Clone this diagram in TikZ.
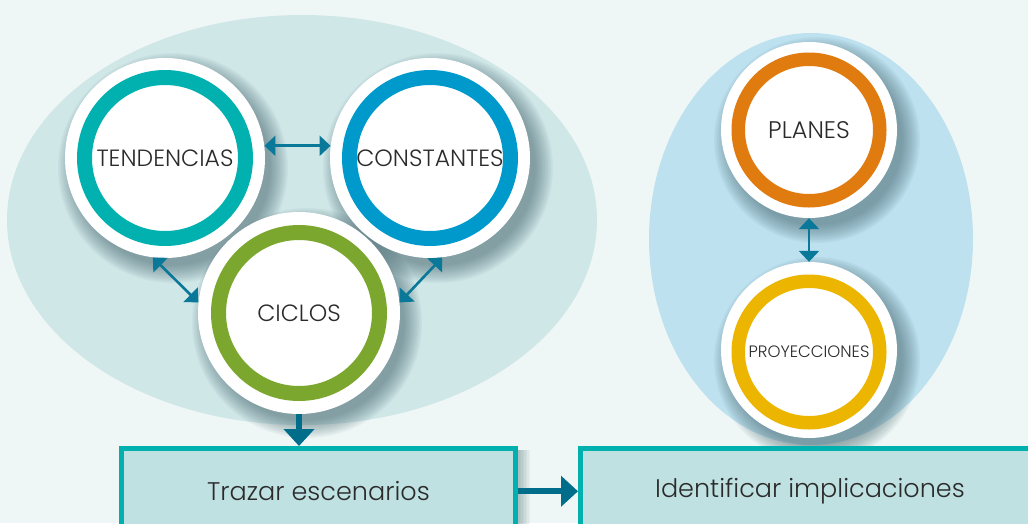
\documentclass[tikz,border=0pt]{standalone}
\usepackage{fontspec}
\setmainfont{Poppins}[UprightFont=* Light]
\usetikzlibrary{arrows.meta}
\definecolor{bgc}{HTML}{EFF7F6}
\definecolor{ellL}{HTML}{D0E7E8}
\definecolor{ellR}{HTML}{BEE1F0}
\definecolor{shcol}{HTML}{3E5F66}
\definecolor{arrc}{HTML}{0A7898}
\definecolor{arrd}{HTML}{006E8A}
\definecolor{boxfill}{HTML}{BFE1E1}
\definecolor{boxline}{HTML}{00B0AE}
\definecolor{ctend}{HTML}{00B1B0}
\definecolor{cconst}{HTML}{0099CC}
\definecolor{cciclo}{HTML}{7BA72E}
\definecolor{cplan}{HTML}{E07B10}
\definecolor{cproy}{HTML}{ECB500}
\definecolor{txt}{HTML}{2B2B2B}
\newcommand\softshadow[3]{%
  \foreach \k in {0,...,11}{\fill[shcol,opacity=0.055] (#1+8,#2+10) circle ({#3+15-1.6*\k});}}
\tikzset{
  disk/.style={circle, fill=white, inner sep=0pt, minimum size=#1},
  ring/.style={circle, fill=white, draw=#1, inner sep=0pt, text=txt},
  bigring/.style={ring=#1, line width=15pt, minimum size=161pt, font=\fontsize{23.5}{27}\selectfont},
  smallring/.style={ring=#1, line width=13.5pt, minimum size=141.5pt},
  thinarrow/.style={arrc, line width=2.6pt, {Triangle[length=11pt,width=20pt]}-{Triangle[length=11pt,width=20pt]}},
  thickarrow/.style={arrd, line width=6pt, -{Triangle[length=17pt,width=30pt]}},
  stepbox/.style={rectangle, fill=boxfill, draw=boxline, line width=5pt, minimum height=85.5pt, text=txt, font=\fontsize{25.5}{29}\selectfont}
}
\begin{document}
\begin{tikzpicture}[x=1pt,y=-1pt]
\useasboundingbox (0,0) rectangle (1028,523);
\fill[bgc] (0,0) rectangle (1028,523);
% background ellipses
\fill[ellL] (302,220) ellipse [x radius=295, y radius=205];
\fill[ellR] (811,239) ellipse [x radius=162, y radius=206];
% shadows
\softshadow{165}{158}{100}
\softshadow{430}{158}{100}
\softshadow{299}{313}{100}
\softshadow{809}{130}{88}
\softshadow{809}{350}{88}
\foreach \k in {0,...,7}{\fill[shcol,opacity=0.05] (119+6,446+4) rectangle (518+12-1.5*\k,540);}
% outer white disks
\node[disk=200pt] (tendo) at (165,158) {};
\node[disk=200pt] (consto) at (430,158) {};
\node[disk=202pt] (cicloso) at (299,313) {};
\node[disk=176pt] (plano) at (809,130) {};
\node[disk=176pt] (proyo) at (809,350) {};
% rings
\node[bigring=ctend] (tend) at (165,158) {TENDENCIAS};
\node[bigring=cconst] (const) at (430,158) {CONSTANTES};
\node[bigring=cciclo] (ciclo) at (299,313) {CICLOS};
\node[smallring=cplan, font=\fontsize{24}{28}\selectfont] (plan) at (809,130) {PLANES};
\node[smallring=cproy, font=\fontsize{16.5}{19}\selectfont] (proy) at (809,352) {PROYECCIONES};
% boxes
\node[stepbox, minimum width=394pt] (trazar) at (318.5,491.25) {Trazar escenarios};
\node[stepbox, minimum width=459pt] (ident) at (810,491.25) {Identificar implicaciones};
% connectors
\draw[thinarrow] (tendo.7) -- (consto.173);
\draw[thinarrow] (tendo.263) -- (cicloso.174);
\draw[thinarrow] (consto.277) -- (cicloso.6);
\draw[thinarrow] (plano.south) -- (proyo.north);
\draw[thickarrow] (cicloso.south) -- (cicloso.south |- trazar.north);
\draw[thickarrow] (trazar.east) -- (ident.west);
\end{tikzpicture}
\end{document}
